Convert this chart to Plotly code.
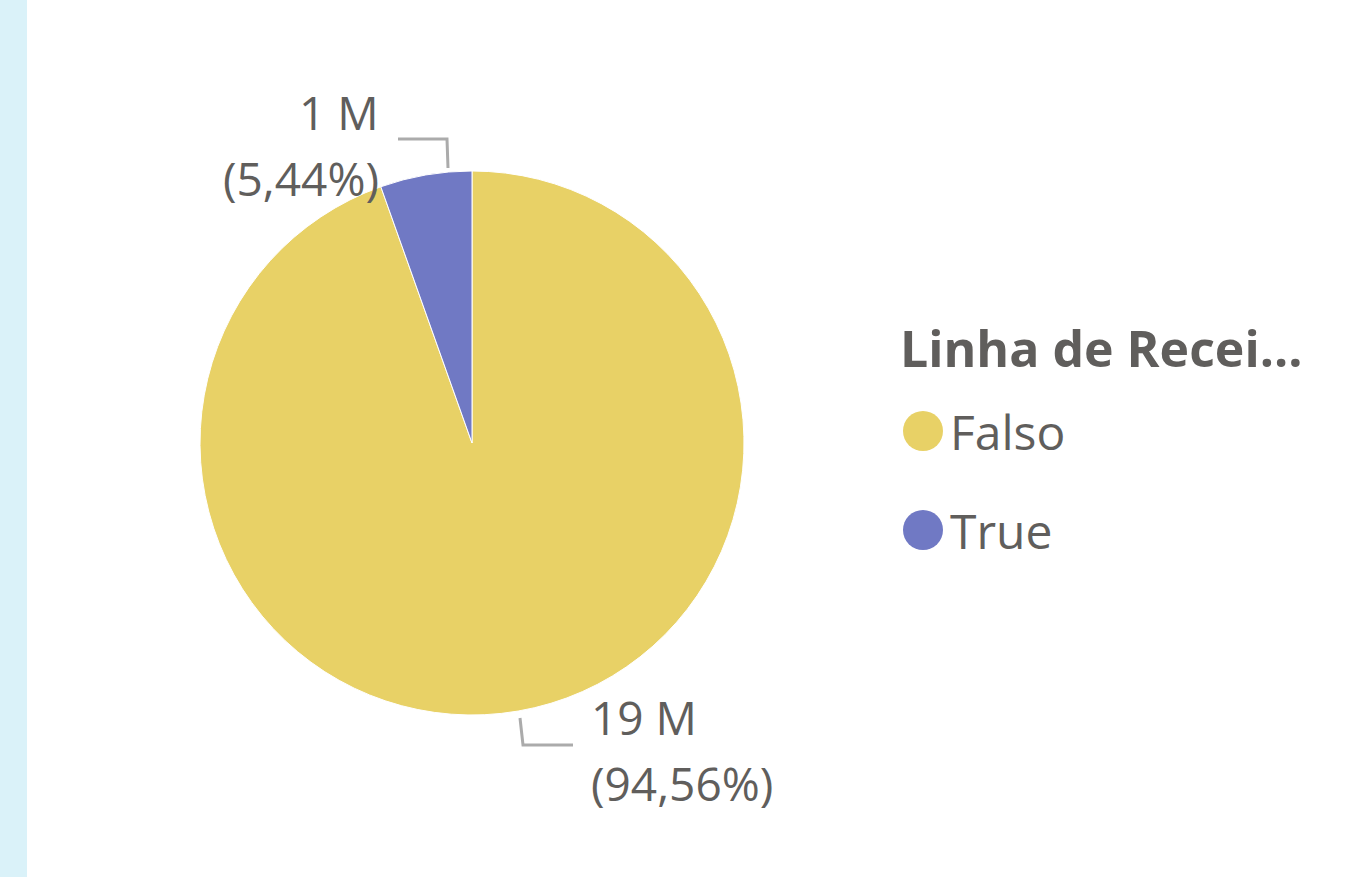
import plotly.graph_objects as go

# ---- data ----
categories = ["Falso", "True"]
values = [18912000, 1088000]
colors = ["#E8D166", "#7079C4"]
legend_order = ["Falso", "True"]
legend_title = "Linha de Recei..."

W, H = 1347, 877
FONT = "Segoe UI, Open Sans, Noto Sans, sans-serif"
TXT = "#605E5C"
LINE = "#ABABAB"


def px(x, y):
    return x / W, 1 - y / H


total = sum(values)
pct = [v / total * 100 for v in values]


def fmt_val(v):
    return f"{v/1e6:.0f} M"


def fmt_pct(p):
    return "(" + f"{p:.2f}".replace(".", ",") + "%)"


fig = go.Figure(
    go.Pie(
        labels=categories,
        values=values,
        sort=False,
        direction="clockwise",
        rotation=0,
        marker=dict(colors=colors, line=dict(color="white", width=1)),
        textinfo="none",
        hoverinfo="label+value+percent",
        domain=dict(x=[200 / W, 744 / W], y=[162 / H, 706 / H]),
        showlegend=False,
    )
)

shapes = []
annotations = []

# left strip
shapes.append(dict(type="rect", xref="paper", yref="paper", x0=0, x1=27 / W, y0=0, y1=1,
                   fillcolor="#DAF2F9", line=dict(width=0), layer="below"))

# label layout (pixel anchors) per category
label_layout = {
    "True": dict(path=[(448, 168), (447, 139), (398, 139)], tx=381, y1=112, y2=178, anchor="right"),
    "Falso": dict(path=[(520, 718), (523, 745), (573, 745)], tx=589, y1=717, y2=783, anchor="left"),
}

for cat, v, p in zip(categories, values, pct):
    L = label_layout[cat]
    pts = [px(*q) for q in L["path"]]
    d = "M " + " L ".join(f"{a},{b}" for a, b in pts)
    shapes.append(dict(type="path", xref="paper", yref="paper", path=d,
                       line=dict(color=LINE, width=3)))
    for txt, yy in ((fmt_val(v), L["y1"]), (fmt_pct(p), L["y2"])):
        xx, yp = px(L["tx"], yy)
        annotations.append(dict(text=txt, x=xx, y=yp, xref="paper", yref="paper",
                                xanchor=L["anchor"], yanchor="middle", showarrow=False,
                                font=dict(family=FONT, size=46, color=TXT)))

# manual legend
tx, ty = px(898, 348)
annotations.append(dict(text=f"<b>{legend_title}</b>", x=tx, y=ty, xref="paper", yref="paper",
                        xanchor="left", yanchor="middle", showarrow=False,
                        font=dict(family=FONT, size=50, color=TXT)))
leg_y = {"Falso": 431, "True": 530}
for name in legend_order:
    c = colors[categories.index(name)]
    cy = leg_y[name]
    x0, y0 = px(903, cy + 20)
    x1, y1 = px(943, cy - 20)
    shapes.append(dict(type="circle", xref="paper", yref="paper", x0=x0, x1=x1, y0=y0, y1=y1,
                       fillcolor=c, line=dict(width=0)))
    lx, ly = px(948, cy)
    annotations.append(dict(text=name, x=lx, y=ly, xref="paper", yref="paper",
                            xanchor="left", yanchor="middle", showarrow=False,
                            font=dict(family=FONT, size=48, color=TXT)))

fig.update_layout(
    width=W, height=H,
    margin=dict(l=0, r=0, t=0, b=0),
    paper_bgcolor="white", plot_bgcolor="white",
    shapes=shapes, annotations=annotations,
)

fig.write_html("out.html", config={"displayModeBar": False},
               post_script="document.body.style.margin='0';")
